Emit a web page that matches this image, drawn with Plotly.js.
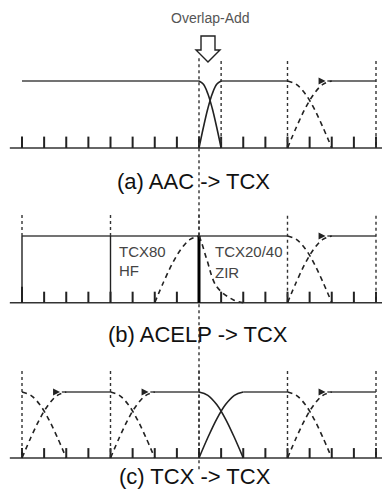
<!DOCTYPE html>
<html>
<head>
<meta charset="utf-8">
<script src="https://cdn.plot.ly/plotly-3.0.1.min.js"></script>
<style>html,body{margin:0;padding:0;background:#fff;}#chart{width:382px;height:504px;}</style>
</head>
<body>
<div id="chart"></div>
<script>
// ---- data (tick units along time axis; 0 = baseline, 1 = window top) ----
const tickIdx = [0,1,2,3,4,5,6,7,8,9,10,11,12,13,14,15,16];
const panelKeys = ['a','b','c'];
const panelTitles = ['(a) AAC -> TCX', '(b) ACELP -> TCX', '(c) TCX -> TCX'];
const fadeT   = [0, 0.2, 0.4, 0.6, 0.8, 1];
const fadeIn  = [0, 0.31, 0.59, 0.81, 0.95, 1];
const fadeOut = [1, 0.95, 0.81, 0.59, 0.31, 0];
const zirT    = [0, 0.06, 0.18, 0.4, 0.78, 1];
const zirY    = [1, 0.9, 0.64, 0.24, 0.04, 0];
const topSegs     = {a: [[0,8],[9,12],[13.8,16]], b: [[0,12],[13.8,16]], c: [[1.8,4],[5.8,8],[10,12],[13.8,16]]};
const solidFades  = {a: [[8,9]], b: [], c: [[8,10]]};
const dashedX     = {a: [[12,14]], b: [[12,14]], c: [[0,2],[4,6],[12,14]]};
const dashedRise  = {a: [], b: [[6,8]], c: []};
const zirFalls    = {a: [], b: [[8,10]], c: []};
const dottedFull  = {a: [9,12,16], b: [12,16], c: [0,4,8,12,16]};
const dottedAbove = {a: [], b: [0,4,8], c: []};
const solidBars   = {a: [], b: [0,4], c: []};
const thickBars   = {a: [], b: [8], c: []};
const labelsB = [
  {text:'TCX80', x:4.3, y:0.77},
  {text:'HF', x:4.3, y:0.48},
  {text:'TCX20/40', x:8.65, y:0.77},
  {text:'ZIR', x:8.65, y:0.46}
];
const overlapLabel = 'Overlap-Add';

// ---- layout geometry ----
const W = 382, H = 504;
const panelPx = {a:{base:148, top:81}, b:{base:302.7, top:236}, c:{base:458, top:392}};
const tickH = {a:0.17, b:0.165, c:0.15};
const dotTop = {a:1.34, b:1.35, c:1.32};
const yname = {a:'y', b:'y2', c:'y3'};
const ink = '#222';
const traces = [];

function seg(xs, ys, p, line, mode) {
  traces.push({x: xs, y: ys, yaxis: yname[p], type:'scatter', mode: mode||'lines',
    line: line, hoverinfo:'skip', showlegend:false});
}
function curve(s, e, tArr, vArr, p, dash, width) {
  seg(tArr.map(t => s + t*(e-s)), vArr.slice(), p,
      {color: ink, width: width||1.6, dash: dash||'solid', shape:'spline', smoothing:1});
}

panelKeys.forEach(p => {
  seg([-0.55, 16.3], [0, 0], p, {color:'#333', width:1.5});
  const tx = [], ty = [];
  tickIdx.forEach(i => { tx.push(i, i, null); ty.push(0, (p==='b'&&i===0)?0.24:tickH[p], null); });
  seg(tx, ty, p, {color: ink, width: 2});
  topSegs[p].forEach(s => seg([s[0], s[1]], [1, 1], p, {color:'#444', width:1.3}));
  dottedFull[p].forEach(i => seg([i, i], [0, dotTop[p]], p, {color:'#333', width:1.4, dash:'dot'}));
  dottedAbove[p].forEach(i => seg([i, i], [1, dotTop[p]], p, {color:'#333', width:1.4, dash:'dot'}));
  solidBars[p].forEach(i => seg([i, i], [0, 1], p, {color: ink, width:1.4}));
  thickBars[p].forEach(i => seg([i, i], [0, 1], p, {color:'#000', width:3}));
  solidFades[p].forEach(f => { curve(f[0], f[1], fadeT, fadeOut, p); curve(f[0], f[1], fadeT, fadeIn, p); });
  dashedX[p].forEach(f => {
    curve(f[0], f[1], fadeT, fadeOut, p, '5px,4px', 1.6);
    curve(f[0], f[1], fadeT, fadeIn, p, '5px,4px', 1.6);
    seg([f[0] + 0.86*(f[1]-f[0])], [1], p, {color: ink}, 'markers');
    traces[traces.length-1].marker = {symbol:'arrow-right', size:7, color: ink};
  });
  dashedRise[p].forEach(f => curve(f[0], f[1], fadeT, fadeIn, p, '5px,4px', 1.6));
  zirFalls[p].forEach(f => curve(f[0], f[1], zirT, zirY, p, '5px,4px', 1.6));
});

// long dotted guide through all panels
seg([8, 8], [1.34, -4.81], 'a', {color:'#333', width:1.4, dash:'dot'});

function yRange(p) {
  const g = panelPx[p], h = g.base - g.top;
  return [(g.base - H)/h, g.base/h];
}
const xScale = 22.125, x0px = 22;
function px(x) { return x / W; }
function py(y) { return 1 - y / H; }
// outline "down" arrow above the overlap region (pixel outline -> paper coords)
const arrowPts = [[201,36],[215,36],[215,50],[220,50],[208,62],[196,50],[201,50]];
const arrowPath = 'M ' + arrowPts.map(p => px(p[0]).toFixed(4) + ',' + py(p[1]).toFixed(4)).join(' L ') + ' Z';

const layout = {
  width: W, height: H,
  margin: {l:0, r:0, t:0, b:0, pad:0},
  paper_bgcolor:'#fff', plot_bgcolor:'#fff',
  showlegend:false,
  xaxis: {range: [-x0px/xScale, (W - x0px)/xScale], visible:false, fixedrange:true},
  yaxis: {range: yRange('a'), visible:false, fixedrange:true},
  yaxis2: {range: yRange('b'), visible:false, fixedrange:true, overlaying:'y'},
  yaxis3: {range: yRange('c'), visible:false, fixedrange:true, overlaying:'y'},
  shapes: [{type:'path', xref:'paper', yref:'paper', path: arrowPath,
            line:{color:'#222', width:1.4}, fillcolor:'#fff'}],
  annotations: []
};
const font = 'Liberation Sans, Arial, sans-serif';
const titleY = [181, 334, 476];
const titleX = [7.77, 7.95, 7.8];
panelTitles.forEach((t, k) => layout.annotations.push({
  text: t, xref:'x', yref:'paper', x: titleX[k], y: 1 - titleY[k]/H,
  showarrow:false, xanchor:'center', yanchor:'middle', font:{family:font, size:22, color:'#111'}
}));
labelsB.forEach(l => layout.annotations.push({
  text: l.text, xref:'x', yref:'y2', x: l.x, y: l.y, showarrow:false,
  xanchor:'left', yanchor:'middle', font:{family:font, size:15, color:'#444'}
}));
layout.annotations.push({text: overlapLabel, xref:'x', yref:'paper', x: 8.5, y: 1 - 18/H,
  showarrow:false, xanchor:'center', yanchor:'middle', font:{family:font, size:14, color:'#555'}});

Plotly.newPlot('chart', traces, layout, {staticPlot:true, displayModeBar:false});
</script>
</body>
</html>
